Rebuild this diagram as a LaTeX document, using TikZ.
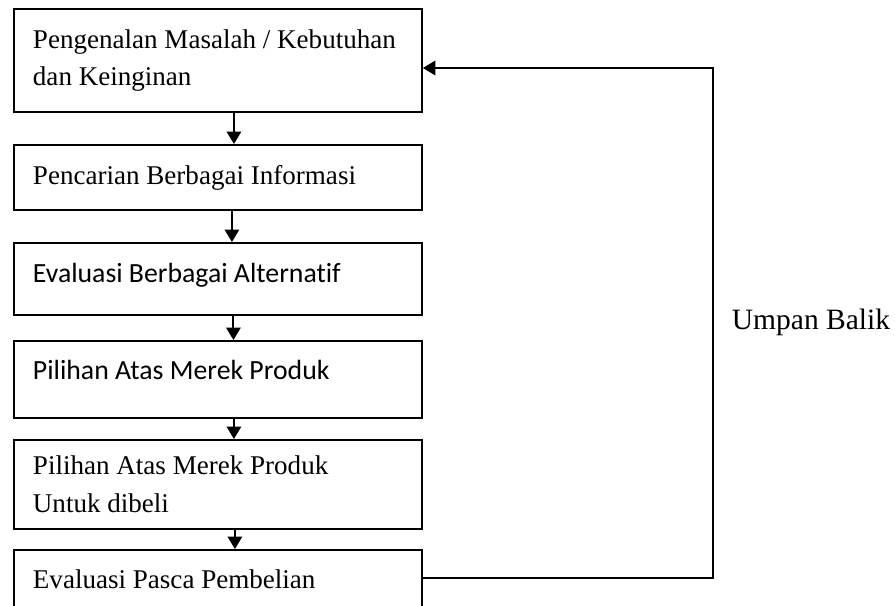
\documentclass[tikz,border=0pt]{standalone}
\usepackage{fontspec}
\setmainfont{Liberation Serif}
\newfontfamily\calibrifont[Ligatures=NoCommon]{Carlito}
\usetikzlibrary{arrows.meta,positioning,calc}

\begin{document}
\begin{tikzpicture}[x=0.02cm, y=-0.02cm,
  stepbox/.style={draw=black, line width=1.1pt, anchor=north west,
    minimum width=8.16cm, text width=7.4cm, inner xsep=0.38cm,
    align=left, font=\fontsize{15.4}{21.5}\selectfont,
    execute at begin node={\spaceskip=0pt\xspaceskip=0pt}},
  flow/.style={line width=1.1pt, -{Triangle[length=0.25cm, width=0.29cm]}}
]

\useasboundingbox (0,0) rectangle (895,605);
\clip (0,0) rectangle (895,605);

% ================= STEPS =================
\node[stepbox, minimum height=2.06cm] (masalah) at (13,8)
{Pengenalan Masalah / Kebutuhan\\dan Keinginan};

\node[stepbox, minimum height=1.30cm, text depth=0.09cm] (pencarian) at (13,144)
{Pencarian Berbagai Informasi};

\node[stepbox, minimum height=1.44cm, text depth=0.24cm,
      font=\calibrifont\fontsize{15.8}{21.5}\selectfont] (evaluasi) at (13,242)
{Evaluasi Berbagai Alternatif};

\node[stepbox, minimum height=1.54cm, text depth=0.4cm,
      font=\calibrifont\fontsize{15.8}{21.5}\selectfont] (pilihan) at (13,340)
{Pilihan Atas Merek Produk};

\node[stepbox, minimum height=1.78cm] (dibeli) at (13,439)
{Pilihan Atas Merek Produk\\Untuk dibeli};

\node[stepbox, minimum height=1.16cm] (pasca) at (13,549)
{Evaluasi Pasca Pembelian};

% arrows between the steps
\draw[flow] ([xshift=0.32cm]masalah.south) -- ([xshift=0.32cm]pencarian.north);
\draw[flow] ([xshift=0.28cm]pencarian.south) -- ([xshift=0.28cm]evaluasi.north);
\draw[flow] ([xshift=0.31cm]evaluasi.south) -- ([xshift=0.31cm]pilihan.north);
\draw[flow] ([xshift=0.32cm]pilihan.south) -- ([xshift=0.32cm]dibeli.north);
\draw[flow] ([xshift=0.34cm]dibeli.south) -- ([xshift=0.34cm]pasca.north);

% ================= FEEDBACK =================
\coordinate (fbbot) at (713,578);
\coordinate (fbtop) at (713,68);

\draw[flow] (pasca.east |- fbbot) -- (fbbot) -- (fbtop) -- (masalah.east |- fbtop);

\node[font=\fontsize{16.8}{20}\selectfont] (umpan) at (811,322) {Umpan Balik};

\end{tikzpicture}
\end{document}
